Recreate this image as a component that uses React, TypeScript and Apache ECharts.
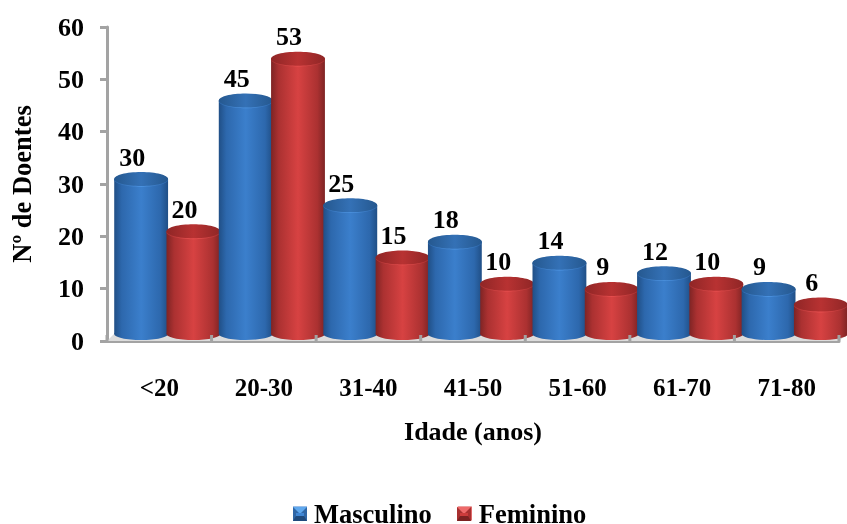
import React, { useEffect, useRef } from "react";
import * as echarts from "echarts";

const ageGroups = ["<20", "20-30", "31-40", "41-50", "51-60", "61-70", "71-80"];
const maleCounts = [30, 45, 25, 18, 14, 12, 9];
const femaleCounts = [20, 53, 15, 10, 9, 10, 6];
const yTicks = { min: 0, max: 60, interval: 10 };

const FONT = '"Liberation Serif", "Times New Roman", serif';
const AXIS_GREY = "#a3a3a3";

type Tone = { edge: string; shoulder: string; mid: string; capDark: string; capLight: string; rim: string };
const BLUE: Tone = { edge: "#204f86", shoulder: "#2d68ad", mid: "#3b7fcc", capDark: "#25588f", capLight: "#3471b6", rim: "#4f97e6" };
const RED: Tone = { edge: "#7e2424", shoulder: "#ab3131", mid: "#d74242", capDark: "#8f2626", capLight: "#b83232", rim: "#ea5050" };

const hGrad = (t: Tone) => ({
  type: "linear", x: 0, y: 0, x2: 1, y2: 0,
  colorStops: [
    { offset: 0, color: t.edge },
    { offset: 0.14, color: t.shoulder },
    { offset: 0.5, color: t.mid },
    { offset: 0.86, color: t.shoulder },
    { offset: 1, color: t.edge },
  ],
});

const threeStop = (a: string, b: string) => ({
  type: "linear", x: 0, y: 0, x2: 1, y2: 0,
  colorStops: [
    { offset: 0, color: a },
    { offset: 0.5, color: b },
    { offset: 1, color: a },
  ],
});

// One cylinder with its value label; the pair sits right of the band centre because of the 3D depth.
const cylinder = (tone: Tone, side: -1 | 1, layer: number) => (params: any, api: any) => {
  const cat = api.value(0);
  const val = api.value(1);
  const band = api.size([1, 0])[0];
  const w = band * 0.515;
  const centre = api.coord([cat, 0])[0] + 8 + (side * band) / 4;
  const top = api.coord([cat, val])[1] - 5;
  const base = api.coord([cat, 0])[1] - 7;
  const z = params.dataIndex * 10 + layer;
  const rx = w / 2;
  return {
    type: "group",
    children: [
      { type: "ellipse", z2: z, shape: { cx: centre, cy: base, rx, ry: 6 }, style: { fill: hGrad(tone) } },
      { type: "rect", z2: z + 1, shape: { x: centre - rx, y: top, width: w, height: base - top }, style: { fill: hGrad(tone) } },
      { type: "ellipse", z2: z + 2, shape: { cx: centre, cy: top + 0.8, rx, ry: 7 }, style: { fill: threeStop(tone.shoulder, tone.rim) } },
      { type: "ellipse", z2: z + 3, shape: { cx: centre, cy: top, rx, ry: 7 }, style: { fill: threeStop(tone.capDark, tone.capLight) } },
      {
        type: "text", z2: 500,
        style: {
          x: centre - 9, y: top - 22, text: String(val), fill: "#000",
          font: `bold 26px ${FONT}`, align: "center", verticalAlign: "middle",
        },
      },
    ],
  };
};

// Floor of the 3D plot plus the short stubs of the category ticks rising above the axis.
const floor = (params: any, api: any) => {
  const { x, y, width, height } = params.coordSys;
  const by = y + height;
  const step = width / ageGroups.length;
  const stubs = ageGroups.map((_, i) => i + 1).concat(0).map((i) => ({
    type: "line", z2: 400,
    shape: { x1: x + i * step, y1: by, x2: x + i * step, y2: by - 6 },
    style: { stroke: AXIS_GREY, lineWidth: 3 },
  }));
  return {
    type: "group",
    children: [
      {
        type: "polygon", z2: 0,
        shape: { points: [[x, by], [x + 7, by - 7], [x + width + 8, by - 7], [x + width, by]] },
        style: { fill: "#dcdcdc" },
      },
      ...stubs,
    ],
  };
};

// Bevelled legend key drawn over the plain legend icon.
const swatch = (x: number, tone: { top: string; side: string; bottom: string; centre: string }) => ({
  type: "group", x, y: 507, z: 50,
  children: [
    { type: "rect", z: 50, shape: { x: 0, y: 0, width: 14, height: 14 }, style: { fill: tone.side } },
    { type: "polygon", z: 50, z2: 1, shape: { points: [[0, 0], [14, 0], [7, 7]] }, style: { fill: tone.top } },
    { type: "polygon", z: 50, z2: 1, shape: { points: [[0, 14], [14, 14], [11, 9], [3, 9]] }, style: { fill: tone.bottom } },
    { type: "rect", z: 50, z2: 2, shape: { x: 3, y: 6, width: 8, height: 3 }, style: { fill: tone.centre } },
  ],
});

export default function App() {
  const ref = useRef<HTMLDivElement>(null);
  useEffect(() => {
    const chart = echarts.init(ref.current!, undefined, { renderer: "svg" });
    chart.setOption({
      animation: false,
      grid: { left: 107, right: 8, top: 27, bottom: 183, outerBoundsMode: "none" },
      legend: {
        left: 293, top: 500, padding: 0, itemGap: 26, itemWidth: 14, itemHeight: 14, icon: "rect",
        textStyle: { fontFamily: FONT, fontWeight: "bold", fontSize: 26.5, color: "#000", padding: [0, 0, 0, 2] },
        data: [
          { name: "Masculino", itemStyle: { color: BLUE.mid } },
          { name: "Feminino", itemStyle: { color: RED.mid } },
        ],
      },
      graphic: [
        swatch(293, { top: "#5fa8ee", side: "#2f66a6", bottom: "#1f4a7c", centre: "#3f86d4" }),
        swatch(457, { top: "#ee6a6a", side: "#a83030", bottom: "#7c2222", centre: "#cc3c3c" }),
      ],
      xAxis: {
        type: "category", data: ageGroups,
        name: "Idade (anos)", nameLocation: "middle", nameGap: 90,
        nameTextStyle: { fontFamily: FONT, fontWeight: "bold", fontSize: 26, color: "#000", verticalAlign: "middle" },
        axisLine: { lineStyle: { color: AXIS_GREY, width: 3 } },
        axisTick: { alignWithLabel: false, length: 8, lineStyle: { color: AXIS_GREY, width: 3 } },
        axisLabel: { fontFamily: FONT, fontWeight: "bold", fontSize: 25, color: "#000", margin: 34 },
      },
      yAxis: {
        type: "value", ...yTicks,
        name: "Nº de Doentes", nameLocation: "middle", nameGap: 85,
        nameTextStyle: { fontFamily: FONT, fontWeight: "bold", fontSize: 26.5, color: "#000", verticalAlign: "middle" },
        axisLine: { show: true, lineStyle: { color: AXIS_GREY, width: 3 } },
        axisTick: { show: true, length: 7, lineStyle: { color: AXIS_GREY, width: 3 } },
        axisLabel: { fontFamily: FONT, fontWeight: "bold", fontSize: 26, color: "#000", margin: 23 },
        splitLine: { show: false },
      },
      series: [
        { type: "custom", silent: true, clip: false, renderItem: floor, data: [[0, 0]], encode: { x: 0, y: 1 } },
        {
          type: "custom", name: "Masculino", clip: false, renderItem: cylinder(BLUE, -1, 0),
          data: maleCounts.map((v, i) => [i, v]), encode: { x: 0, y: 1 }, itemStyle: { color: BLUE.mid },
        },
        {
          type: "custom", name: "Feminino", clip: false, renderItem: cylinder(RED, 1, 5),
          data: femaleCounts.map((v, i) => [i, v]), encode: { x: 0, y: 1 }, itemStyle: { color: RED.mid },
        },
      ],
    });
    return () => chart.dispose();
  }, []);
  return <div ref={ref} style={{ position: "fixed", left: 0, top: 0, width: 847, height: 524 }} />;
}
